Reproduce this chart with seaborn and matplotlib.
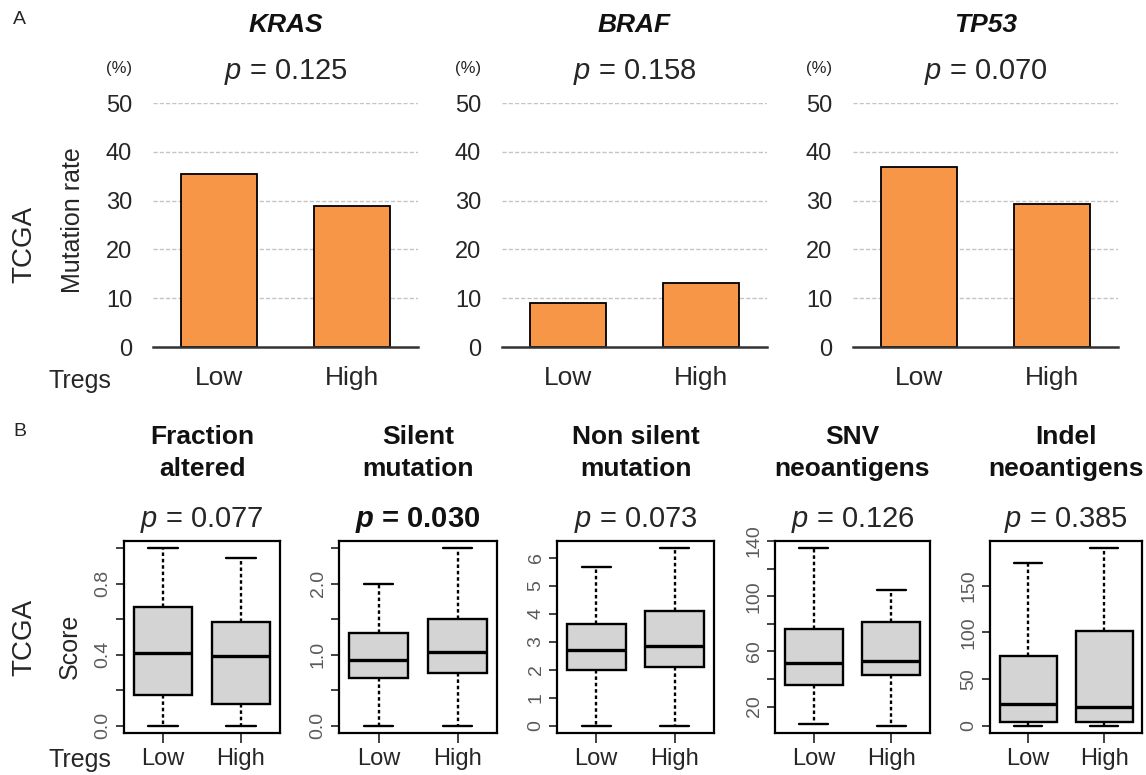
import pandas as pd
import matplotlib.pyplot as plt
import seaborn as sns

sns.set_style("white")
plt.rcParams['font.family'] = ['Liberation Sans', 'DejaVu Sans']
plt.rcParams['mathtext.fontset'] = 'custom'
plt.rcParams['mathtext.rm'] = 'Liberation Sans'
plt.rcParams['mathtext.it'] = 'Liberation Sans:italic'
plt.rcParams['mathtext.bf'] = 'Liberation Sans:bold'
plt.rcParams['mathtext.bfit'] = 'Liberation Sans:italic:bold'

# ---- data (A: mutation rate, %) ----
groups = ['Low', 'High']
genes = ['KRAS', 'BRAF', 'TP53']
kras_rate = [35.4, 28.9]
braf_rate = [9.0, 13.1]
tp53_rate = [36.9, 29.4]
gene_pvals = ['0.125', '0.158', '0.070']
rate_ticks = [0, 10, 20, 30, 40, 50]

# ---- data (B: scores, five-number summaries: min, Q1, median, Q3, max) ----
score_titles = ['Fraction\naltered', 'Silent\nmutation', 'Non silent\nmutation',
                'SNV\nneoantigens', 'Indel\nneoantigens']
score_pvals = ['0.077', '0.030', '0.073', '0.126', '0.385']
fraction_low = [0.0, 0.175, 0.408, 0.667, 1.0]
fraction_high = [0.0, 0.122, 0.395, 0.586, 0.945]
silent_low = [0.0, 0.68, 0.926, 1.30, 2.0]
silent_high = [0.0, 0.75, 1.034, 1.50, 2.5]
nonsilent_low = [0.0, 1.99, 2.70, 3.63, 5.66]
nonsilent_high = [0.0, 2.11, 2.86, 4.11, 6.34]
snv_low = [7.6, 35.8, 51.3, 76.3, 134.9]
snv_high = [6.0, 43.1, 53.2, 81.6, 104.7]
indel_low = [0.0, 4.6, 23.2, 75.0, 174.3]
indel_high = [0.0, 4.6, 20.7, 101.0, 190.0]

fraction_ticks = [0.0, 0.2, 0.4, 0.6, 0.8, 1.0]
fraction_labels = ['0.0', '', '0.4', '', '0.8', '']
silent_ticks = [0.0, 0.5, 1.0, 1.5, 2.0, 2.5]
silent_labels = ['0.0', '', '1.0', '', '2.0', '']
nonsilent_ticks = [0, 1, 2, 3, 4, 5, 6]
nonsilent_labels = ['0', '1', '2', '3', '4', '5', '6']
snv_ticks = [20, 40, 60, 80, 100, 120, 140]
snv_labels = ['20', '', '60', '', '100', '', '140']
indel_ticks = [0, 50, 100, 150]
indel_labels = ['0', '50', '100', '150']

W, H = 1146, 775
fig = plt.figure(figsize=(W / 100, H / 100), dpi=100)


def px_axes(x0, x1, y0, y1):
    return fig.add_axes([x0 / W, 1 - y1 / H, (x1 - x0) / W, (y1 - y0) / H])


def px_text(x, y, s, **kw):
    fig.text(x / W, 1 - y / H, s, **kw)


dark = '#262626'
orange = '#F79646'

# ---------------- panel A ----------------
top_x = [(153, 418), (502, 767), (853, 1118)]
rates = [kras_rate, braf_rate, tp53_rate]
for (x0, x1), gene, rate, pv in zip(top_x, genes, rates, gene_pvals):
    ax = px_axes(x0, x1, 103, 347)
    df = pd.DataFrame({'Tregs': groups, 'rate': rate})
    sns.barplot(data=df, x='Tregs', y='rate', color=orange, saturation=1,
                edgecolor='black', linewidth=1.3, width=0.57, ax=ax, zorder=3)
    ax.set_xlim(-0.5, 1.5)
    ax.set_ylim(0, 50)
    ax.set_yticks(rate_ticks)
    for v in rate_ticks[1:]:
        ax.axhline(v, color='#c4c4c4', lw=1.0, ls=(0, (3, 1.5)), zorder=1)
    for s in ['top', 'right', 'left']:
        ax.spines[s].set_visible(False)
    ax.spines['bottom'].set_color('#333333')
    ax.spines['bottom'].set_linewidth(1.8)
    ax.spines['bottom'].set_zorder(4)
    ax.tick_params(axis='y', length=0, pad=15, labelsize=17, labelcolor=dark)
    ax.tick_params(axis='x', length=0, pad=14, labelsize=19, labelcolor=dark)
    ax.set_xlabel('')
    ax.set_ylabel('')
    cx = (x0 + x1) / 2
    px_text(cx, 25, gene, ha='center', va='center', fontsize=19,
            fontweight='bold', fontstyle='italic', color='#111111')
    px_text(cx, 72, '$p$ = ' + pv, ha='center', va='center', fontsize=21, color=dark)
    px_text(x0 - 21, 68, '(%)', ha='right', va='center', fontsize=12, color=dark)

px_text(13, 20, 'A', ha='left', va='center', fontsize=14)
px_text(24, 244, 'TCGA', ha='center', va='center', rotation=90, fontsize=20, color=dark)
px_text(73, 220, 'Mutation rate', ha='center', va='center', rotation=90, fontsize=18, color=dark)
px_text(80, 381, 'Tregs', ha='center', va='center', fontsize=18, color=dark)

# ---------------- panel B ----------------
bot_x = [(124, 280), (339, 497), (557, 714), (775, 930), (990, 1142)]
box_data = [(fraction_low, fraction_high), (silent_low, silent_high),
            (nonsilent_low, nonsilent_high), (snv_low, snv_high),
            (indel_low, indel_high)]
box_ticks = [(fraction_ticks, fraction_labels), (silent_ticks, silent_labels),
             (nonsilent_ticks, nonsilent_labels), (snv_ticks, snv_labels),
             (indel_ticks, indel_labels)]

for i, ((x0, x1), (lo, hi), (tk, tl)) in enumerate(zip(bot_x, box_data, box_ticks)):
    ax = px_axes(x0, x1, 541, 733)
    df = pd.DataFrame({'Tregs': ['Low'] * len(lo) + ['High'] * len(hi),
                       'Score': lo + hi})
    sns.boxplot(data=df, x='Tregs', y='Score', order=groups, whis=(0, 100),
                width=0.75, color='#d4d4d4', saturation=1, linecolor='black',
                linewidth=1.7, showfliers=False, ax=ax,
                whiskerprops=dict(linestyle=(0, (1.5, 1.2))),
                medianprops=dict(linewidth=2.4))
    ax.set_xlim(-0.5, 1.5)
    vmin = min(lo + hi)
    vmax = max(lo + hi)
    ext = 0.04 * (vmax - vmin)
    ax.set_ylim(vmin - ext, vmax + ext)
    ax.set_yticks(tk)
    ax.set_yticklabels(tl, rotation=90, va='center')
    for s in ax.spines.values():
        s.set_color('black')
        s.set_linewidth(1.6)
    ax.tick_params(axis='y', left=True, length=6, width=1.3, pad=3,
                   labelsize=14, labelcolor='#5a5a5a', color='#333333')
    ax.tick_params(axis='x', bottom=True, length=7, width=1.3, pad=4,
                   labelsize=17, labelcolor=dark, color='#333333')
    ax.set_xlabel('')
    ax.set_ylabel('')
    cx = (x0 + x1) / 2
    px_text(cx, 453, score_titles[i], ha='center', va='center', fontsize=19,
            fontweight='bold', color='#111111', linespacing=1.4)
    if score_pvals[i] == '0.030':
        px_text(cx, 520, r'$\mathbfit{p}$ = ' + score_pvals[i], ha='center', va='center',
                fontsize=21, fontweight='bold', color='#111111')
    else:
        px_text(cx, 520, '$p$ = ' + score_pvals[i], ha='center', va='center',
                fontsize=21, color=dark)

px_text(13, 432, 'B', ha='left', va='center', fontsize=14)
px_text(24, 637, 'TCGA', ha='center', va='center', rotation=90, fontsize=20, color=dark)
px_text(70, 646, 'Score', ha='center', va='center', rotation=90, fontsize=18, color=dark)
px_text(80, 760, 'Tregs', ha='center', va='center', fontsize=18, color=dark)

fig.savefig('out.png', dpi=100, facecolor='white')
